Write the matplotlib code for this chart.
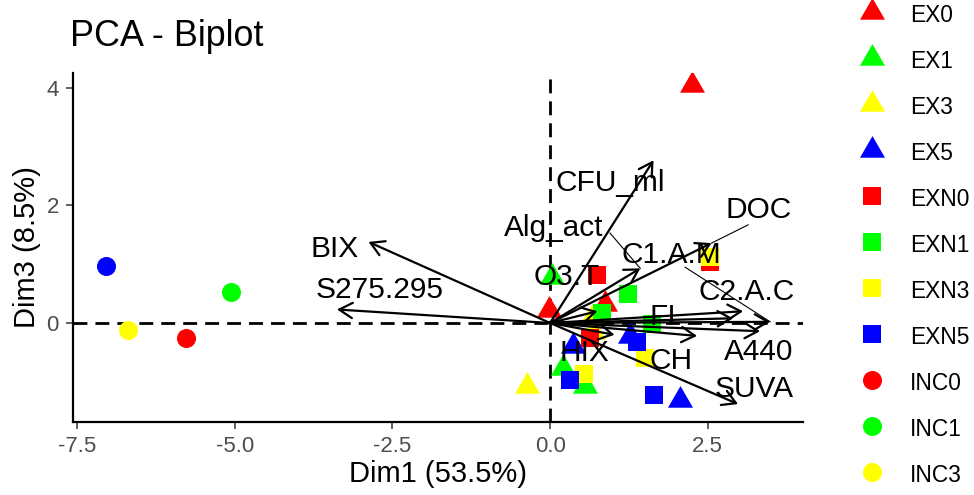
import matplotlib
matplotlib.use("Agg")
import matplotlib.pyplot as plt
from matplotlib.patches import FancyArrowPatch, ArrowStyle
from matplotlib.path import Path
import numpy as np

plt.rcParams['font.family'] = ['Liberation Sans', 'DejaVu Sans']
plt.rcParams['axes.unicode_minus'] = False

# ---------------- data ----------------
groups = ['EX0', 'EX1', 'EX3', 'EX5', 'EXN0', 'EXN1', 'EXN3', 'EXN5',
          'INC0', 'INC1', 'INC3', 'INC5']
group_colors = ['#FF0000', '#00FF00', '#FFFF00', '#0000FF',
                '#FF0000', '#00FF00', '#FFFF00', '#0000FF',
                '#FF0000', '#00FF00', '#FFFF00', '#0000FF']
group_shapes = ['tri', 'tri', 'tri', 'tri', 'sq', 'sq', 'sq', 'sq',
                'o', 'o', 'o', 'o']

ind_group = ['EX0', 'EX0', 'EX0',
             'EX1', 'EX1', 'EX1',
             'EX3', 'EX3', 'EX3',
             'EX5', 'EX5', 'EX5',
             'EXN0', 'EXN0', 'EXN0',
             'EXN1', 'EXN1', 'EXN1',
             'EXN3', 'EXN3', 'EXN3',
             'EXN5', 'EXN5', 'EXN5',
             'INC0', 'INC1', 'INC3', 'INC5']
ind_dim1 = [2.25, 0.87, -0.01,
            0.03, 0.21, 0.55,
            -0.37, 0.68, 0.67,
            0.37, 1.27, 2.06,
            0.75, 0.63, 2.54,
            1.23, 0.82, 1.61,
            2.53, 1.51, 0.53,
            1.37, 0.32, 1.64,
            -5.78, -5.06, -6.70, -7.04]
ind_dim3 = [4.05, 0.32, 0.22,
            0.79, -0.77, -1.08,
            -1.08, -0.15, 0.08,
            -0.40, -0.22, -1.31,
            0.82, -0.26, 1.04,
            0.49, 0.17, -0.01,
            1.13, -0.60, -0.86,
            -0.32, -0.97, -1.23,
            -0.26, 0.52, -0.12, 0.97]

var_names = ['BIX', 'S275.295', 'CFU_ml', 'Alg_act', 'O3.T', 'DOC', 'C1.A.M',
             'C2.A.C', 'FI', 'A440', 'HIX', 'CH', 'SUVA']
var_dim1 = [-2.88, -3.38, 1.64, 1.43, 0.75, 2.56, 3.49,
            3.06, 2.90, 3.33, 1.02, 2.33, 2.98]
var_dim3 = [1.38, 0.23, 2.77, 0.93, 0.20, 1.36, 0.02,
            0.20, 0.08, -0.14, -0.20, -0.22, -1.38]
label_dim1 = [-3.41, -2.70, 0.95, 0.05, 0.27, 3.31, 1.92,
              3.12, 1.79, 3.31, 0.54, 1.92, 3.23]
label_dim3 = [1.26, 0.56, 2.38, 1.62, 0.78, 1.92, 1.16,
              0.53, 0.10, -0.49, -0.51, -0.65, -1.12]
# repel segments: label -> arrow tip
seg_names = ['Alg_act', 'DOC', 'C1.A.M']
seg_x0 = [0.95, 3.14, 2.14]
seg_y0 = [1.53, 1.67, 0.95]

x_ticks = [-7.5, -5.0, -2.5, 0.0, 2.5]
x_tick_labels = ['-7.5', '-5.0', '-2.5', '0.0', '2.5']
y_ticks = [0, 2, 4]
y_tick_labels = ['0', '2', '4']

# ---------------- figure ----------------
W, H = 974, 495
fig = plt.figure(figsize=(W / 100, H / 100), dpi=100)
ax_l, ax_r, ax_t, ax_b = 72.7, 803, 72.7, 421.7
ax = fig.add_axes([ax_l / W, 1 - ax_b / H, (ax_r - ax_l) / W, (ax_b - ax_t) / H])

tri = Path([(-1, -0.577), (1, -0.577), (0, 1.155), (-1, -0.577)],
           [Path.MOVETO, Path.LINETO, Path.LINETO, Path.CLOSEPOLY])
marker_map = {'tri': (tri, 20.8), 'sq': ('s', 13.3), 'o': ('o', 13.7)}

ind_group_arr = np.array(ind_group)
x_arr = np.array(ind_dim1)
y_arr = np.array(ind_dim3)
for g, c, s in zip(groups, group_colors, group_shapes):
    m, ms = marker_map[s]
    sel = ind_group_arr == g
    ax.plot(x_arr[sel], y_arr[sel], linestyle='none', marker=m, markersize=ms,
            color=c, markeredgewidth=0, label=g, zorder=3)

ax.axhline(0, color='black', lw=2.0, linestyle=(0, (5, 2.9)), zorder=2)
ax.axvline(0, color='black', lw=2.0, linestyle=(0, (5, 2.9)), zorder=2)

astyle = ArrowStyle('->', head_length=0.95, head_width=0.55)
for vx, vy in zip(var_dim1, var_dim3):
    ar = FancyArrowPatch((0, 0), (vx, vy), arrowstyle=astyle, mutation_scale=10,
                         lw=1.6, color='black', shrinkA=0, shrinkB=0, zorder=4)
    ax.add_patch(ar)

for n, x0, y0 in zip(seg_names, seg_x0, seg_y0):
    i = var_names.index(n)
    ax.plot([x0, var_dim1[i]], [y0, var_dim3[i]], color='black', lw=0.8, zorder=4)

for n, lx, ly in zip(var_names, label_dim1, label_dim3):
    ax.text(lx, ly, n, ha='center', va='center', fontsize=21.5, color='black', zorder=5)

ax.set_xlim(-7.57, 4.01)
ax.set_ylim(-1.68, 4.26)
ax.set_xticks(x_ticks)
ax.set_xticklabels(x_tick_labels)
ax.set_yticks(y_ticks)
ax.set_yticklabels(y_tick_labels)
ax.tick_params(axis='both', length=5, width=1.1, color='#333333',
               labelsize=16, labelcolor='#4D4D4D', pad=5)
for sp in ['top', 'right']:
    ax.spines[sp].set_visible(False)
for sp in ['left', 'bottom']:
    ax.spines[sp].set_linewidth(1.6)
    ax.spines[sp].set_color('black')

ax.set_xlabel('Dim1 (53.5%)', fontsize=21)
ax.set_ylabel('Dim3 (8.5%)', fontsize=21)
ax.xaxis.label.set_va('center')
ax.xaxis.set_label_coords(0.5, -(474 - ax_b) / (ax_b - ax_t))
ax.yaxis.label.set_va('center')
ax.yaxis.set_label_coords(-(ax_l - 27) / (ax_r - ax_l), 0.5)

fig.text(70 / W, 1 - 37 / H, 'PCA - Biplot', ha='left', va='center', fontsize=25.8)

fs = 16.4
handle_left = 854.7
leg = fig.legend(loc='upper left', frameon=False, fontsize=fs,
                 bbox_to_anchor=(handle_left / W, 1 - 1.5 / H),
                 borderpad=0, borderaxespad=0, handlelength=1.5, handleheight=1.4,
                 labelspacing=0.865, handletextpad=0.94, numpoints=1)

fig.savefig('out.png', dpi=100)
